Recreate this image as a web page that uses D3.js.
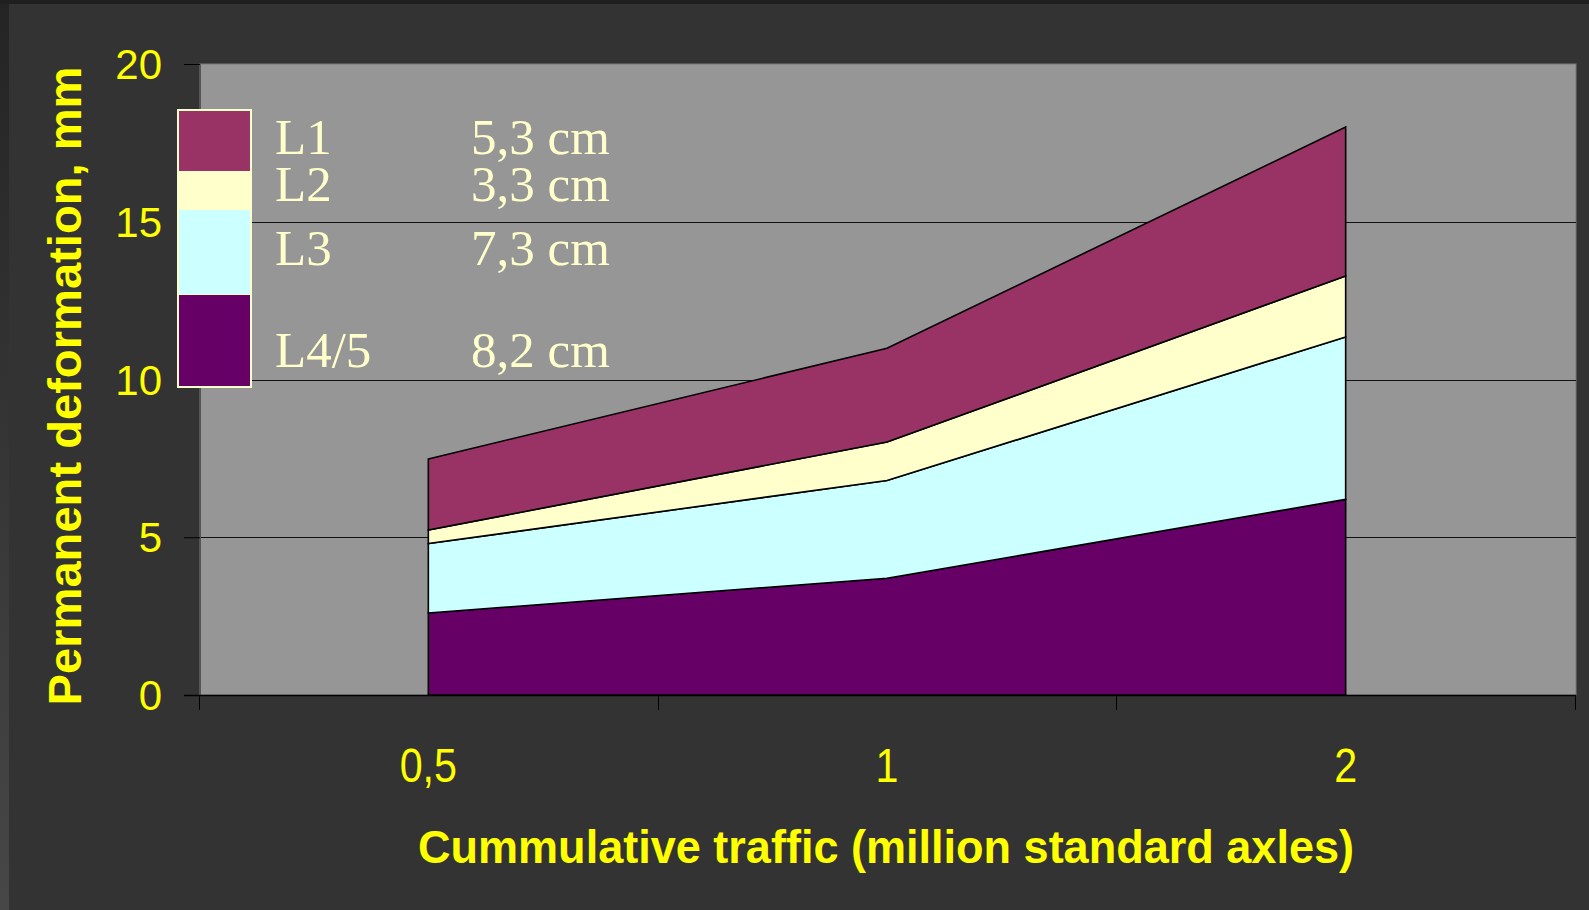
<!DOCTYPE html>
<html>
<head>
<meta charset="utf-8">
<script src="https://cdn.jsdelivr.net/npm/d3@7"></script>
<style>
  html, body { margin: 0; padding: 0; background: #333333; overflow: hidden; }
</style>
</head>
<body>
<script>
'use strict';

// traffic classes on the x axis
const categorias = ['0,5', '1', '2']
// layer contributions (mm), bottom layer first
const camadaL45 = [2.6, 3.7, 6.2]
const camadaL3 = [2.2, 3.1, 5.15]
const camadaL2 = [0.43, 1.22, 1.93]
const camadaL1 = [2.25, 2.97, 4.72]
const ticksY = [0, 5, 10, 15, 20]
const legendaNomes = ['L1', 'L2', 'L3', 'L4/5']
const legendaEspessuras = ['5,3 cm', '3,3 cm', '7,3 cm', '8,2 cm']

class GraficoArea {
    constructor(largura=1589, altura=910) {
        this.largura = largura
        this.altura = altura
        this.area = {esq: 200, dir: 1576, topo: 64, base: 695}
        this.cores = {'L1': '#993366', 'L2': '#ffffcc', 'L3': '#ccffff', 'L4/5': '#660066'}
        this.svg = this.criaSVG()
        this.criaEscalas()
        this.desenhaFundo()
        this.desenhaAreas()
        this.desenhaEixos()
        this.desenhaLegenda()
        this.desenhaTitulos()
    }

    criaSVG() {
        let svg = d3.select('body').append('svg')
            .attr('width', this.largura)
            .attr('height', this.altura)
        let grad = svg.append('defs').append('linearGradient')
            .attr('id', 'faixa').attr('x1', 0).attr('y1', 0).attr('x2', 0).attr('y2', 1)
        grad.append('stop').attr('offset', '0%').attr('stop-color', '#242424')
        grad.append('stop').attr('offset', '100%').attr('stop-color', '#474747')
        svg.append('rect').attr('width', this.largura).attr('height', this.altura).attr('fill', '#333333')
        svg.append('rect').attr('width', this.largura).attr('height', 4).attr('fill', '#1f1f1f')
        svg.append('rect').attr('y', 4).attr('width', 9).attr('height', this.altura - 4).attr('fill', 'url(#faixa)')
        return svg
    }

    criaEscalas() {
        this.x = d3.scaleBand()
            .domain(categorias)
            .range([this.area.esq - 1, this.area.dir - 1])
            .paddingInner(0).paddingOuter(0)
        this.y = d3.scaleLinear()
            .domain([0, 20])
            .range([this.area.base, this.area.topo])
    }

    desenhaFundo() {
        const a = this.area
        this.svg.append('rect')
            .attr('x', a.esq).attr('y', a.topo)
            .attr('width', a.dir - a.esq).attr('height', a.base - a.topo)
            .attr('fill', '#969696')
            .attr('stroke', '#7a7a7a').attr('stroke-width', 1)
        this.svg.append('g').selectAll('line')
            .data(ticksY.filter(d => d > 0 && d < 20))
            .enter().append('line')
            .attr('x1', a.esq).attr('x2', a.dir)
            .attr('y1', d => Math.round(this.y(d)) + 0.5)
            .attr('y2', d => Math.round(this.y(d)) + 0.5)
            .attr('stroke', '#111').attr('stroke-width', 1)
    }

    desenhaAreas() {
        const linhas = categorias.map((c, i) => ({
            cat: c, 'L4/5': camadaL45[i], 'L3': camadaL3[i], 'L2': camadaL2[i], 'L1': camadaL1[i]
        }))
        const pilha = d3.stack().keys(['L4/5', 'L3', 'L2', 'L1'])(linhas)
        const meio = this.x.bandwidth() / 2
        const area = d3.area()
            .x(d => this.x(d.data.cat) + meio)
            .y0(d => this.y(d[0]))
            .y1(d => this.y(d[1]))
        this.svg.append('g').selectAll('path')
            .data(pilha)
            .enter().append('path')
            .attr('d', area)
            .attr('fill', d => this.cores[d.key])
            .attr('stroke', '#000')
            .attr('stroke-width', 1.6)
            .attr('stroke-linejoin', 'miter')
    }

    desenhaEixos() {
        const a = this.area
        // y axis
        let eixoY = d3.axisLeft(this.y).tickValues(ticksY).tickSize(16).tickPadding(22).tickFormat(d3.format('d'))
        let gY = this.svg.append('g')
            .attr('transform', `translate(${a.esq},0)`)
            .call(eixoY)
        gY.select('.domain').attr('stroke', '#555')
        gY.selectAll('.tick line').attr('stroke', '#000')
        gY.selectAll('.tick text')
            .attr('fill', '#ffff00')
            .attr('font-family', 'Liberation Sans, Arial, sans-serif')
            .attr('font-size', 42)
            .attr('dy', '0.35em')

        // x axis: tick marks on category boundaries, labels in the middle
        let gX = this.svg.append('g').attr('transform', `translate(0,${a.base})`)
        gX.append('line')
            .attr('x1', a.esq - 16).attr('x2', a.dir)
            .attr('y1', 0.5).attr('y2', 0.5)
            .attr('stroke', '#000').attr('stroke-width', 1.5)
        const limites = categorias.map(c => this.x(c)).concat([this.x(categorias[2]) + this.x.bandwidth()])
        gX.selectAll('line.marca')
            .data(limites)
            .enter().append('line')
            .attr('class', 'marca')
            .attr('x1', d => Math.round(d) + 0.5).attr('x2', d => Math.round(d) + 0.5)
            .attr('y1', 0).attr('y2', 15)
            .attr('stroke', '#000')
        gX.selectAll('text')
            .data(categorias)
            .enter().append('text')
            .attr('transform', d => `translate(${this.x(d) + this.x.bandwidth() / 2},87) scale(0.86,1)`)
            .attr('text-anchor', 'middle')
            .attr('fill', '#ffff00')
            .attr('font-family', 'Liberation Sans, Arial, sans-serif')
            .attr('font-size', 48)
            .text(d => d)
    }

    desenhaLegenda() {
        const caixa = {x: 177, y: 109, w: 75, h: 279}
        const cortes = [109, 171, 210, 295, 388]
        let g = this.svg.append('g')
        g.append('rect')
            .attr('x', caixa.x).attr('y', caixa.y).attr('width', caixa.w).attr('height', caixa.h)
            .attr('fill', '#ffffcc')
        g.selectAll('rect.amostra')
            .data(legendaNomes)
            .enter().append('rect')
            .attr('class', 'amostra')
            .attr('x', caixa.x + 2)
            .attr('y', (d, i) => cortes[i] + (i === 0 ? 2 : 0))
            .attr('width', caixa.w - 4)
            .attr('height', (d, i) => cortes[i + 1] - cortes[i] - (i === 0 ? 2 : 0) - (i === 3 ? 2 : 0) - (i === 2 ? 1 : 0))
            .attr('fill', d => this.cores[d])
        const bases = [154, 201, 265, 367]
        g.selectAll('text.nome')
            .data(legendaNomes)
            .enter().append('text')
            .attr('class', 'nome')
            .attr('x', 275).attr('y', (d, i) => bases[i])
            .attr('fill', '#ffffcc')
            .attr('font-family', 'Liberation Serif, Times New Roman, serif')
            .attr('font-size', 51)
            .text(d => d)
        g.selectAll('text.espessura')
            .data(legendaEspessuras)
            .enter().append('text')
            .attr('class', 'espessura')
            .attr('x', 471).attr('y', (d, i) => bases[i])
            .attr('fill', '#ffffcc')
            .attr('font-family', 'Liberation Serif, Times New Roman, serif')
            .attr('font-size', 51)
            .text(d => d)
    }

    desenhaTitulos() {
        this.svg.append('text')
            .attr('x', 886).attr('y', 863)
            .attr('text-anchor', 'middle')
            .attr('fill', '#ffff00')
            .attr('font-family', 'Liberation Sans, Arial, sans-serif')
            .attr('font-weight', 'bold')
            .attr('font-size', 46)
            .attr('textLength', 936)
            .attr('lengthAdjust', 'spacingAndGlyphs')
            .text('Cummulative traffic (million standard axles)')
        this.svg.append('text')
            .attr('transform', 'translate(81,386) rotate(-90)')
            .attr('text-anchor', 'middle')
            .attr('fill', '#ffff00')
            .attr('font-family', 'Liberation Sans, Arial, sans-serif')
            .attr('font-weight', 'bold')
            .attr('font-size', 46)
            .attr('textLength', 639)
            .attr('lengthAdjust', 'spacingAndGlyphs')
            .text('Permanent deformation, mm')
    }
}

let grafico = new GraficoArea()
</script>
</body>
</html>
